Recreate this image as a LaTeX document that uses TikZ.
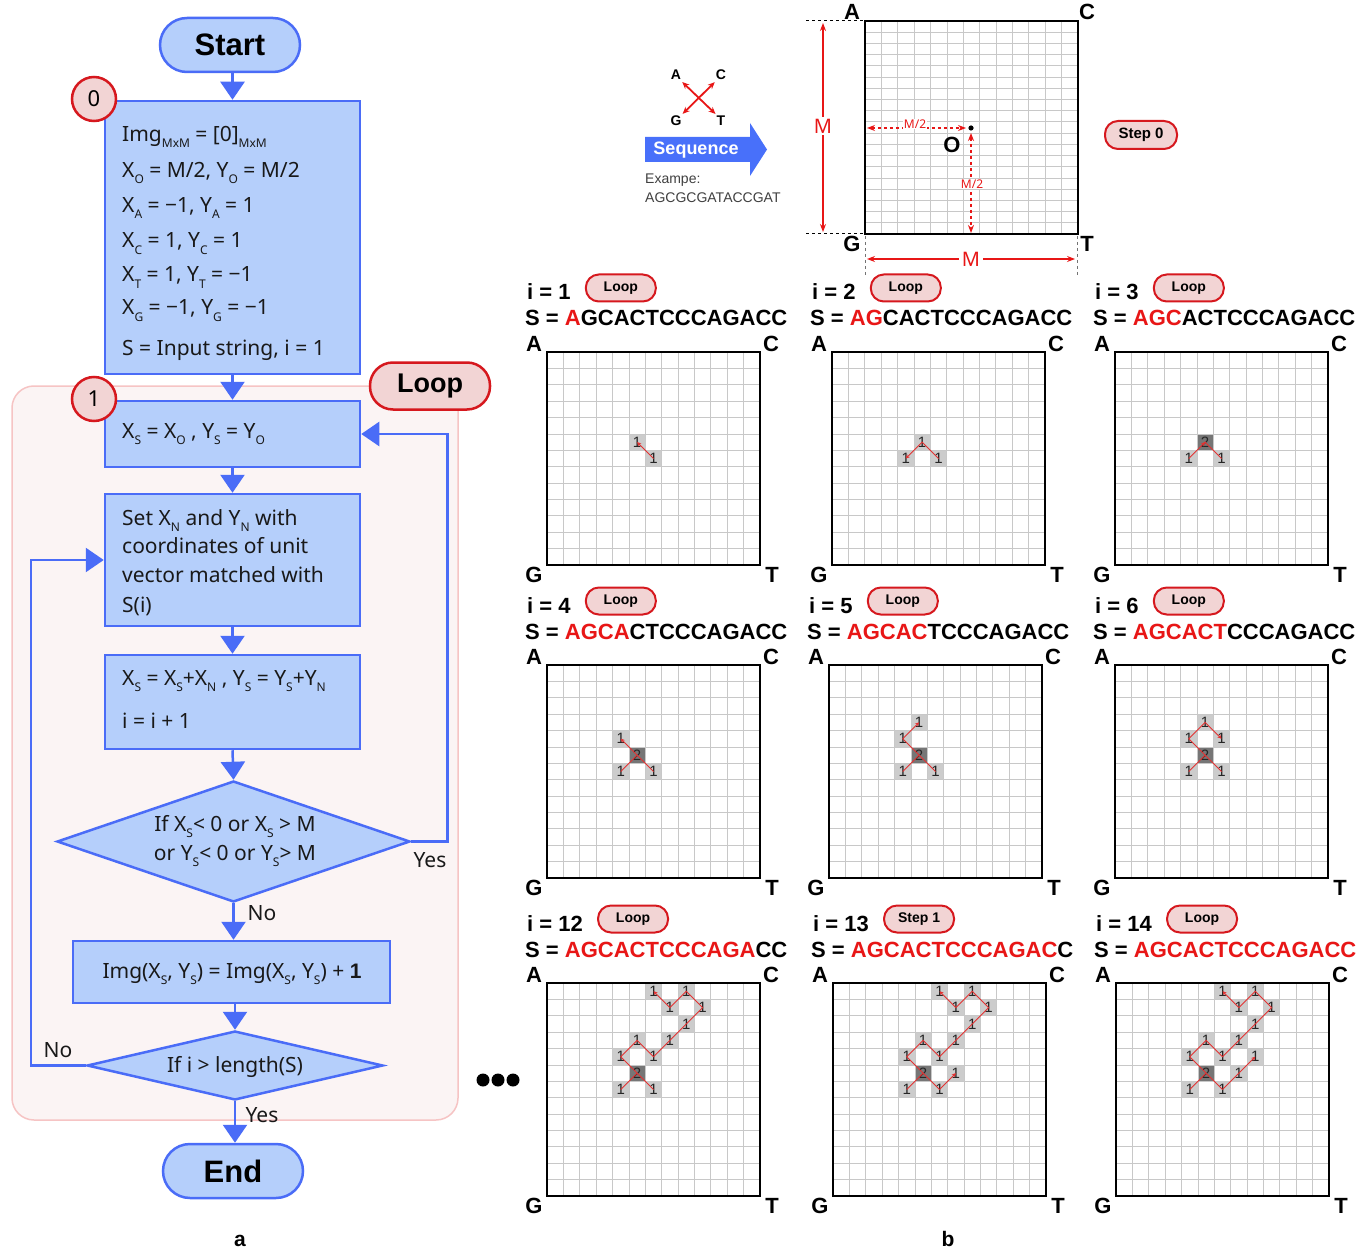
\documentclass[tikz,border=0pt]{standalone}
\usepackage{fontspec}
\setmainfont{Noto Sans}
\newfontfamily\gridfont{Liberation Sans}
\usetikzlibrary{shapes.geometric,arrows.meta,calc}
\definecolor{fblue}{RGB}{74,108,247}
\definecolor{ffill}{RGB}{181,207,251}
\definecolor{cred}{RGB}{214,24,30}
\definecolor{cpink}{RGB}{242,212,212}
\definecolor{lpink}{RGB}{251,244,244}
\definecolor{lpinkb}{RGB}{246,196,196}
\definecolor{tred}{RGB}{232,22,22}
\definecolor{txt}{RGB}{25,25,25}
\definecolor{glinec}{RGB}{200,200,200}
\definecolor{cellc1}{RGB}{204,204,204}
\definecolor{cellc2}{RGB}{118,118,118}
\definecolor{pred}{RGB}{228,50,50}
\definecolor{seqblue}{RGB}{72,112,250}
\newcommand\fs[1]{\fontsize{#1pt}{#1pt}\selectfont}
\newcommand\lsub[1]{\raisebox{-6pt}{\fs{12}#1}}
\newcommand\bsans{\gridfont\bfseries}
\tikzset{
  fbox/.style={draw=fblue, fill=ffill, line width=2.5pt, inner sep=0pt},
  farrow/.style={draw=fblue, line width=2.5pt, -{Triangle[width=24pt,length=18pt]}},
  ftext/.style={inner sep=0pt, text=txt, font=\fs{21}},
  rcirc/.style={circle, draw=cred, fill=cpink, line width=2.5pt, minimum size=44pt, inner sep=0pt, font=\fs{22}},
  gtext/.style={inner sep=0pt, font=\bsans\fs{22}},
  spill/.style={draw=cred, fill=cpink, line width=2pt, rounded corners=13pt, minimum width=70pt, minimum height=27pt, inner sep=0pt, font=\bsans\fs{14}},
  glinestyle/.style={draw=glinec, line width=0.8pt},
  cnum/.style={inner sep=0pt, font=\gridfont\fs{15}, text=black!85},
  rpath/.style={draw=pred, line width=0.9pt, -{Stealth[length=4pt,width=4pt]}},
  redarr/.style={draw=tred, line width=1.1pt, {Stealth[length=8pt,width=6pt]}-{Stealth[length=8pt,width=6pt]}},
  reddash/.style={draw=tred, line width=1.1pt, dashed, {Stealth[length=8pt,width=6pt]}-{Stealth[length=8pt,width=6pt]}},
}
\newcommand\panel[8]{%
  \node[gtext, anchor=base west] (i#3) at ({#1-20},{#2-52}) {i = #3};
  \node[spill, anchor=west] (p#3) at ($(i#3.base east)+(14,-12)$) {#4};
  \node[gtext, anchor=base west] (s#3) at ({#1-22},{#2-26}) {S = \textcolor{tred}{#5}#6};
  \node[gtext, anchor=base] (a#3) at ({#1-13},{#2-1}) {A};
  \node[gtext, anchor=base] (c#3) at ({#1+224},{#2-1}) {C};
  \node[gtext, anchor=base] (g#3) at ({#1-13},{#2+230}) {G};
  \node[gtext, anchor=base] (t#3) at ({#1+225},{#2+230}) {T};
  \begin{scope}[shift={(#1,#2)}, x=16.385pt, y=-16.385pt]
    \foreach \cx/\ry/\nv in {#7} {\fill[fill=cellc\nv] (\cx,\ry) rectangle ++(1,1);}
    \foreach \k in {1,...,12} {\draw[glinestyle] (\k,0) -- (\k,13); \draw[glinestyle] (0,\k) -- (13,\k);}
    \draw[line width=2.2pt] (0,0) rectangle (13,13);
    \foreach \cx/\ry/\nv in {#7} {\node[cnum] (n#3-\cx-\ry) at (\cx+.5,\ry+.5) {\nv};}
    #8
  \end{scope}}
\begin{document}
\begin{tikzpicture}[x=1pt,y=-1pt]
\useasboundingbox (0,0) rectangle (1369,1252);
\fill[white] (0,0) rectangle (1369,1252);

% ---------- flowchart (a) ----------
\draw[draw=lpinkb, fill=lpink, line width=1.5pt, rounded corners=22pt] (12,386) rectangle (458,1120);

\node[fbox, rounded corners=27pt, minimum width=140pt, minimum height=54pt, font=\bsans\fs{31}] (start) at (230,45) {Start};
\node[fbox, minimum width=255pt, minimum height=273pt] (b0) at (232.5,237.5) {};
\node[fbox, minimum width=255pt, minimum height=66pt] (b1) at (232.5,434) {};
\node[fbox, minimum width=255pt, minimum height=132pt] (b2) at (232.5,560) {};
\node[fbox, minimum width=255pt, minimum height=94pt] (b3) at (232.5,702) {};
\node[fbox, diamond, minimum width=353pt, minimum height=121pt] (d1) at (233.5,841.5) {};
\node[fbox, minimum width=317pt, minimum height=62pt] (b4) at (231.5,972) {};
\node[fbox, diamond, minimum width=296pt, minimum height=69pt] (d2) at (235,1065.5) {};
\node[fbox, rounded corners=27pt, minimum width=140pt, minimum height=54pt, font=\bsans\fs{31}] (end) at (233,1171) {End};

\node[rcirc] (c0) at (94,99) {0};
\node[rcirc] (c1) at (94,399) {1};
\node[draw=cred, fill=cpink, line width=2.5pt, rounded corners=23pt, minimum width=120pt, minimum height=47pt, inner sep=0pt, font=\bsans\fs{27}] (loop) at (430,386) {Loop};

\node[ftext, anchor=base west] (t0a) at (122,142) {Img\lsub{MxM} = [0]\lsub{MxM}};
\node[ftext, anchor=base west] (t0b) at (122,178) {X\lsub{O} = M/2, Y\lsub{O} = M/2};
\node[ftext, anchor=base west] (t0c) at (122,213) {X\lsub{A} = −1, Y\lsub{A} = 1};
\node[ftext, anchor=base west] (t0d) at (122,248) {X\lsub{C} = 1, Y\lsub{C} = 1};
\node[ftext, anchor=base west] (t0e) at (122,282) {X\lsub{T} = 1, Y\lsub{T} = −1};
\node[ftext, anchor=base west] (t0f) at (122,315) {X\lsub{G} = −1, Y\lsub{G} = −1};
\node[ftext, anchor=base west] (t0g) at (122,355) {S = Input string, i = 1};
\node[ftext, anchor=base west] (t1a) at (122,438) {X\lsub{S} = X\lsub{O} , Y\lsub{S} = Y\lsub{O}};
\node[ftext, anchor=base west] (t2a) at (122,525) {Set X\lsub{N} and Y\lsub{N} with};
\node[ftext, anchor=base west] (t2b) at (122,553) {coordinates of unit};
\node[ftext, anchor=base west] (t2c) at (122,582) {vector matched with};
\node[ftext, anchor=base west] (t2d) at (122,612) {S(i)};
\node[ftext, anchor=base west] (t3a) at (122,685) {X\lsub{S} = X\lsub{S}+X\lsub{N} , Y\lsub{S} = Y\lsub{S}+Y\lsub{N}};
\node[ftext, anchor=base west] (t3b) at (122,728) {i = i + 1};
\node[ftext, anchor=base] (td1a) at (235,831) {If X\lsub{S}< 0 or X\lsub{S} > M};
\node[ftext, anchor=base] (td1b) at (235,860) {or Y\lsub{S}< 0 or Y\lsub{S}> M};
\node[ftext, anchor=base] (t4) at (232,978) {Img(X\lsub{S}, Y\lsub{S}) = Img(X\lsub{S}, Y\lsub{S}) + {\bsans 1}};
\node[ftext, anchor=base] (td2) at (235,1072) {If i > length(S)};

\draw[farrow] (start.south -| b0.north) -- (b0.north);
\draw[farrow] (b0.south) -- (b1.north);
\draw[farrow] (b1.south) -- (b2.north);
\draw[farrow] (b2.south) -- (b3.north);
\draw[farrow] (b3.south) -- (d1.north);
\draw[farrow] (d1.south) -- (b4.north -| d1.south);
\draw[farrow] (b4.south -| d2.north) -- (d2.north);
\draw[farrow] (d2.south) -- (end.north -| d2.south);
\draw[farrow] (d1.east) -- ++(36,0) |- (b1.east);
\draw[farrow] (d2.west) -- ++(-55,0) |- (b2.west);

\node[ftext, anchor=base] (lyes1) at (430,867) {Yes};
\node[ftext, anchor=base] (lno1) at (262,920) {No};
\node[ftext, anchor=base] (lno2) at (58,1057) {No};
\node[ftext, anchor=base] (lyes2) at (262,1122) {Yes};
\node[inner sep=0pt, font=\bsans\fs{21}, anchor=base] (la) at (240,1246) {a};
\node[inner sep=0pt, font=\bsans\fs{21}, anchor=base] (lb) at (948,1246) {b};

\fill (483,1080) circle (6.5);
\fill (498,1080) circle (6.5);
\fill (513,1080) circle (6.5);

% ---------- step 0 ----------
\node[inner sep=0pt, font=\bsans\fs{14}] (xa) at (676,75) {A};
\node[inner sep=0pt, font=\bsans\fs{14}] (xc) at (721,75) {C};
\node[inner sep=0pt, font=\bsans\fs{14}] (xg) at (676,121) {G};
\node[inner sep=0pt, font=\bsans\fs{14}] (xt) at (721,121) {T};
\draw[draw=tred, line width=1.8pt, {Stealth[length=7pt,width=6pt]}-{Stealth[length=7pt,width=6pt]}] (xa.south east) ++(1,2) -- ($(xt.north west)+(-1,-2)$);
\draw[draw=tred, line width=1.8pt, {Stealth[length=7pt,width=6pt]}-{Stealth[length=7pt,width=6pt]}] (xc.south west) ++(-1,2) -- ($(xg.north east)+(1,-2)$);
\fill[seqblue] (645,137) -- (750,137) -- (750,123) -- (767,149.5) -- (750,176) -- (750,162) -- (645,162) -- cycle;
\node[inner sep=0pt, text=white, font=\bsans\fs{18}] (seq) at (696,150) {Sequence};
\node[inner sep=0pt, anchor=base west, text=black!75, font=\gridfont\fs{14}] (ex1) at (645,184) {Exampe:};
\node[inner sep=0pt, anchor=base west, text=black!75, font=\gridfont\fs{14}] (ex2) at (645,203) {AGCGCGATACCGAT};

\begin{scope}[shift={(865,21)}, x=16.385pt, y=-11.21pt]
  \foreach \k in {1,...,12} {\draw[glinestyle] (\k,0) -- (\k,19);}
  \foreach \k in {1,...,18} {\draw[glinestyle] (0,\k) -- (13,\k);}
  \draw[line width=2.2pt] (0,0) rectangle (13,19);
\end{scope}
\node[gtext, anchor=base] (s0a) at (852,20) {A};
\node[gtext, anchor=base] (s0c) at (1087,20) {C};
\node[gtext, anchor=base] (s0g) at (852,252) {G};
\node[gtext, anchor=base] (s0t) at (1087,252) {T};
\draw[dashed, line width=1pt] (806,21) -- (865,21);
\draw[dashed, line width=1pt] (806,234) -- (865,234);
\draw[dashed, draw=black!55, line width=0.8pt] (865,236) -- (865,276);
\draw[dashed, draw=black!55, line width=0.8pt] (1077,236) -- (1077,276);
\draw[redarr] (823,23) -- (823,232);
\node[inner sep=2pt, fill=white, text=tred, font=\fs{20}] (mv) at (823,126) {M};
\draw[redarr] (867,259) -- (1075,259);
\node[inner sep=3pt, fill=white, text=tred, font=\fs{20}] (mh) at (971,259) {M};
\coordinate (O) at (971,128);
\draw[reddash] (867,128) -- (966,128);
\node[inner sep=1pt, fill=white, text=tred, font=\fs{12}] (mh2) at (915,124) {M/2};
\draw[reddash] (971,133) -- (971,233);
\node[inner sep=1pt, fill=white, text=tred, font=\fs{12}] (mv2) at (972,184) {M/2};
\fill (O) circle (2.6);
\node[inner sep=0pt, font=\bsans\fs{22}] (Olab) at (952,145) {O};
\node[spill, minimum width=72pt, minimum height=28pt, font=\bsans\fs{15}] (step0) at (1141,135) {Step 0};

% ---------- panels ----------
\panel{547}{352}{1}{Loop}{A}{GCACTCCCAGACC}{6/6/1,5/5/1}{\draw[rpath] plot coordinates {(6.5,6.5) (5.5,5.5)};}
\panel{832}{352}{2}{Loop}{AG}{CACTCCCAGACC}{6/6/1,5/5/1,4/6/1}{\draw[rpath] plot coordinates {(6.5,6.5) (5.5,5.5) (4.5,6.5)};}
\panel{1115}{352}{3}{Loop}{AGC}{ACTCCCAGACC}{6/6/1,5/5/2,4/6/1}{\draw[rpath] plot coordinates {(6.5,6.5) (5.5,5.5) (4.5,6.5) (5.5,5.5)};}
\panel{547}{665}{4}{Loop}{AGCA}{CTCCCAGACC}{6/6/1,5/5/2,4/6/1,4/4/1}{\draw[rpath] plot coordinates {(6.5,6.5) (5.5,5.5) (4.5,6.5) (5.5,5.5) (4.5,4.5)};}
\panel{829}{665}{5}{Loop}{AGCAC}{TCCCAGACC}{6/6/1,5/5/2,4/6/1,4/4/1,5/3/1}{\draw[rpath] plot coordinates {(6.5,6.5) (5.5,5.5) (4.5,6.5) (5.5,5.5) (4.5,4.5) (5.5,3.5)};}
\panel{1115}{665}{6}{Loop}{AGCACT}{CCCAGACC}{6/6/1,5/5/2,4/6/1,4/4/1,5/3/1,6/4/1}{\draw[rpath] plot coordinates {(6.5,6.5) (5.5,5.5) (4.5,6.5) (5.5,5.5) (4.5,4.5) (5.5,3.5) (6.5,4.5)};}
\panel{547}{983}{12}{Loop}{AGCACTCCCAGA}{CC}{6/6/1,5/5/2,4/6/1,4/4/1,5/3/1,6/4/1,7/3/1,8/2/1,9/1/1,8/0/1,7/1/1,6/0/1}{\draw[rpath] plot coordinates {(6.5,6.5) (5.5,5.5) (4.5,6.5) (5.5,5.5) (4.5,4.5) (5.5,3.5) (6.5,4.5) (7.5,3.5) (8.5,2.5) (9.5,1.5) (8.5,0.5) (7.5,1.5) (6.5,0.5)};}
\panel{833}{983}{13}{Step 1}{AGCACTCCCAGAC}{C}{6/6/1,5/5/2,4/6/1,4/4/1,5/3/1,6/4/1,7/3/1,8/2/1,9/1/1,8/0/1,7/1/1,6/0/1,7/5/1}{\draw[rpath] plot coordinates {(6.5,6.5) (5.5,5.5) (4.5,6.5) (5.5,5.5) (4.5,4.5) (5.5,3.5) (6.5,4.5) (7.5,3.5) (8.5,2.5) (9.5,1.5) (8.5,0.5) (7.5,1.5) (6.5,0.5)}; \draw[rpath] plot coordinates {(6.5,6.5) (7.5,5.5)};}
\panel{1116}{983}{14}{Loop}{AGCACTCCCAGACC}{}{6/6/1,5/5/2,4/6/1,4/4/1,5/3/1,6/4/1,7/3/1,8/2/1,9/1/1,8/0/1,7/1/1,6/0/1,7/5/1,8/4/1}{\draw[rpath] plot coordinates {(6.5,6.5) (5.5,5.5) (4.5,6.5) (5.5,5.5) (4.5,4.5) (5.5,3.5) (6.5,4.5) (7.5,3.5) (8.5,2.5) (9.5,1.5) (8.5,0.5) (7.5,1.5) (6.5,0.5)}; \draw[rpath] plot coordinates {(6.5,6.5) (7.5,5.5) (8.5,4.5)};}
\end{tikzpicture}
\end{document}
